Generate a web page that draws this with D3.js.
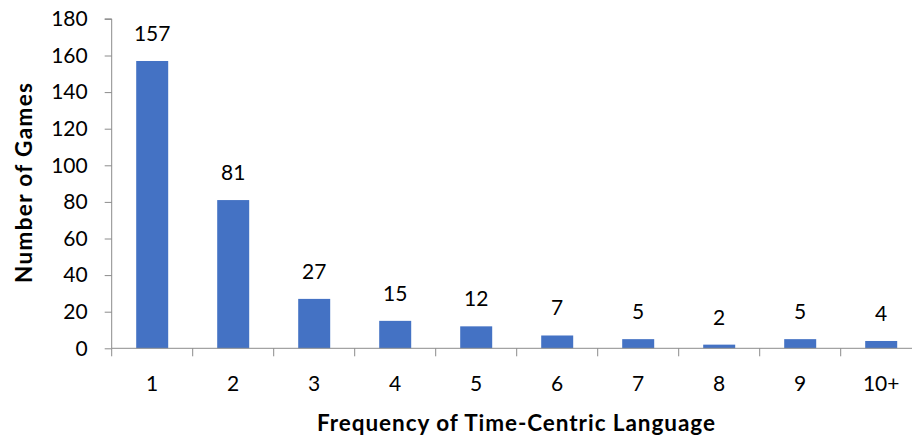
<!DOCTYPE html>
<html><head><meta charset="utf-8">
<script src="https://cdn.jsdelivr.net/npm/d3@7"></script>
<style>body{margin:0;background:#fff;} svg{display:block;} text{font-family:Lato,"Open Sans",sans-serif;fill:#000;}</style>
</head><body>
<script>
const categories = ["1","2","3","4","5","6","7","8","9","10+"];
const values = [157,81,27,15,12,7,5,2,5,4];
const yTicks = [0,20,40,60,80,100,120,140,160,180];
const xTitle = "Frequency of Time-Centric Language";
const yTitle = "Number of Games";

(function(){
const W = 912, H = 439;
const svg = d3.select("body").append("svg").attr("width", W).attr("height", H);
const pL = 111.7, pR = 921.7, pT = 18.9, pB = 348.3;

const x = d3.scaleBand().domain(categories).range([pL, pR]).paddingInner(0.605).paddingOuter(0.3025);
const y = d3.scaleLinear().domain([0,180]).range([pB, pT]);
const axisColor = "#8c8c8c";
const fs = "21px";

// y axis
const ya = svg.append("g").attr("transform", `translate(${pL},0)`)
  .call(d3.axisLeft(y).tickValues(yTicks).tickSize(7).tickPadding(17));
ya.select(".domain").attr("stroke", axisColor).attr("d", `M-7,${pT}H0V${pB}`);
ya.selectAll(".tick line").attr("stroke", axisColor);
ya.selectAll(".tick text").style("font-size",fs).style("font-family","Lato, sans-serif").attr("fill","#000");

// bars
svg.append("g").selectAll("rect").data(values).join("rect")
  .attr("x", (d,i)=>x(categories[i])).attr("width", x.bandwidth())
  .attr("y", d=>y(d)).attr("height", d=>pB - y(d)).attr("fill", "#4472C4");

// x axis
const step = x.step();
const xa = svg.append("g").attr("transform", `translate(0,${pB})`);
xa.append("line").attr("x1", pL).attr("x2", pR).attr("stroke", axisColor);
const bounds = d3.range(categories.length + 1).map(i => pL + i*step);
xa.selectAll("line.t").data(bounds).join("line").attr("class","t")
  .attr("x1", d=>d).attr("x2", d=>d).attr("y1", 0).attr("y2", 8).attr("stroke", axisColor);
xa.selectAll("text").data(categories).join("text")
  .attr("x", d=>x(d)+x.bandwidth()/2).attr("y", 43).attr("text-anchor","middle")
  .style("font-size",fs).text(d=>d);

// value labels
svg.append("g").selectAll("text").data(values).join("text")
  .attr("x", (d,i)=>x(categories[i])+x.bandwidth()/2).attr("y", d=>y(d)-20)
  .attr("text-anchor","middle").style("font-size",fs).text(d=>d);

// titles
svg.append("text").attr("x", 516).attr("y", 431).attr("text-anchor","middle")
  .attr("textLength", 398).attr("lengthAdjust","spacing")
  .style("font-size","22.5px").style("font-weight","bold").text(xTitle);
svg.append("text").attr("transform", `translate(32,183) rotate(-90)`).attr("text-anchor","middle")
  .attr("textLength", 200).attr("lengthAdjust","spacing")
  .style("font-size","22.5px").style("font-weight","bold").text(yTitle);
})();
</script>
</body></html>
